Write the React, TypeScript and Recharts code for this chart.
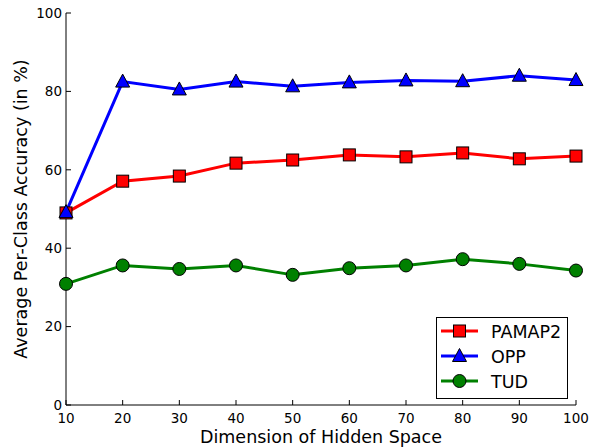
import React from 'react';
import { LineChart, Line, XAxis, YAxis, Legend } from 'recharts';

// Dimension of hidden space
const dims = [10, 20, 30, 40, 50, 60, 70, 80, 90, 100];
// Average per-class accuracy (%) per dataset
const pamap2 = [49.0, 57.1, 58.4, 61.7, 62.5, 63.8, 63.3, 64.3, 62.8, 63.5];
const opp = [49.2, 82.5, 80.5, 82.5, 81.3, 82.3, 82.8, 82.6, 84.0, 82.9];
const tud = [30.9, 35.6, 34.7, 35.6, 33.2, 34.9, 35.6, 37.2, 36.0, 34.3];

const xTicks = [10, 20, 30, 40, 50, 60, 70, 80, 90, 100];
const yTicks = [0, 20, 40, 60, 80, 100];

const data = dims.map((d, i) => ({ dim: d, pamap2: pamap2[i], opp: opp[i], tud: tud[i] }));

const FONT = 'DejaVu Sans, sans-serif';

type Shape = 'square' | 'triangle' | 'circle';

const marker = (shape: Shape, fill: string, cx: number, cy: number, key?: string) => {
  if (shape === 'square') {
    return <rect key={key} x={cx - 6} y={cy - 6} width={12} height={12} fill={fill} stroke="#000" strokeWidth={1} />;
  }
  if (shape === 'triangle') {
    return (
      <polygon
        key={key}
        points={`${cx},${cy - 7.5} ${cx + 7},${cy + 5.5} ${cx - 7},${cy + 5.5}`}
        fill={fill}
        stroke="#000"
        strokeWidth={1}
      />
    );
  }
  return <circle key={key} cx={cx} cy={cy} r={6.5} fill={fill} stroke="#000" strokeWidth={1} />;
};

const makeDot = (shape: Shape, fill: string) => (props: any) =>
  marker(shape, fill, props.cx, props.cy, `${shape}-${props.index}`);

const series = [
  { key: 'pamap2', name: 'PAMAP2', color: '#ff0000', shape: 'square' as Shape },
  { key: 'opp', name: 'OPP', color: '#0000ff', shape: 'triangle' as Shape },
  { key: 'tud', name: 'TUD', color: '#008000', shape: 'circle' as Shape },
];

const LegendBox = () => (
  <svg width={132} height={82} style={{ display: 'block' }}>
    <rect x={0.5} y={0.5} width={131} height={81} fill="#fff" stroke="#000" strokeWidth={1} />
    {series.map((s, i) => {
      const y = 14 + i * 25;
      return (
        <g key={s.key}>
          <line x1={5} x2={42} y1={y} y2={y} stroke={s.color} strokeWidth={3} />
          {marker(s.shape, s.color, 23.5, y)}
          <text x={55} y={y + 6.5} fontSize={17.5} fontFamily={FONT} fill="#000">
            {s.name}
          </text>
        </g>
      );
    })}
  </svg>
);

const tickStyle = { fontSize: 13.5, fontFamily: FONT, fill: '#000' };

export default function App() {
  return (
    <div style={{ position: 'absolute', left: 0, top: 0, background: '#fff' }}>
      <LineChart width={592} height={447} data={data} margin={{ top: 13, right: 16, left: 0, bottom: 0 }}>
        <XAxis
          dataKey="dim"
          type="number"
          domain={[10, 100]}
          ticks={xTicks}
          interval={0}
          height={42}
          stroke="#000"
          tick={tickStyle}
          tickSize={-5}
          tickMargin={13}
          label={{
            value: 'Dimension of Hidden Space',
            position: 'insideBottom',
            offset: 4,
            fontSize: 17.5,
            fontFamily: FONT,
            fill: '#000',
          }}
        />
        <XAxis
          xAxisId="top"
          orientation="top"
          dataKey="dim"
          type="number"
          domain={[10, 100]}
          ticks={xTicks}
          interval={0}
          height={0}
          stroke="#000"
          tick={false}
          tickSize={-5}
        />
        <YAxis
          type="number"
          domain={[0, 100]}
          ticks={yTicks}
          interval={0}
          width={66}
          stroke="#000"
          tick={tickStyle}
          tickSize={-5}
          tickMargin={9}
          label={{
            value: 'Average Per-Class Accuracy (in %)',
            angle: -90,
            position: 'insideLeft',
            offset: 21,
            fontSize: 17.5,
            fontFamily: FONT,
            fill: '#000',
            textAnchor: 'middle',
          }}
        />
        <YAxis
          yAxisId="right"
          orientation="right"
          type="number"
          domain={[0, 100]}
          ticks={yTicks}
          interval={0}
          width={0}
          stroke="#000"
          tick={false}
          tickSize={-5}
        />
        <Legend
          layout="horizontal"
          verticalAlign="middle"
          align="center"
          wrapperStyle={{ left: 436, top: 317, width: 132, height: 82 }}
          content={() => <LegendBox />}
        />
        {series.map((s) => (
          <Line
            key={s.key}
            dataKey={s.key}
            name={s.name}
            stroke={s.color}
            strokeWidth={3}
            dot={makeDot(s.shape, s.color)}
            activeDot={false}
            isAnimationActive={false}
          />
        ))}
      </LineChart>
    </div>
  );
}
